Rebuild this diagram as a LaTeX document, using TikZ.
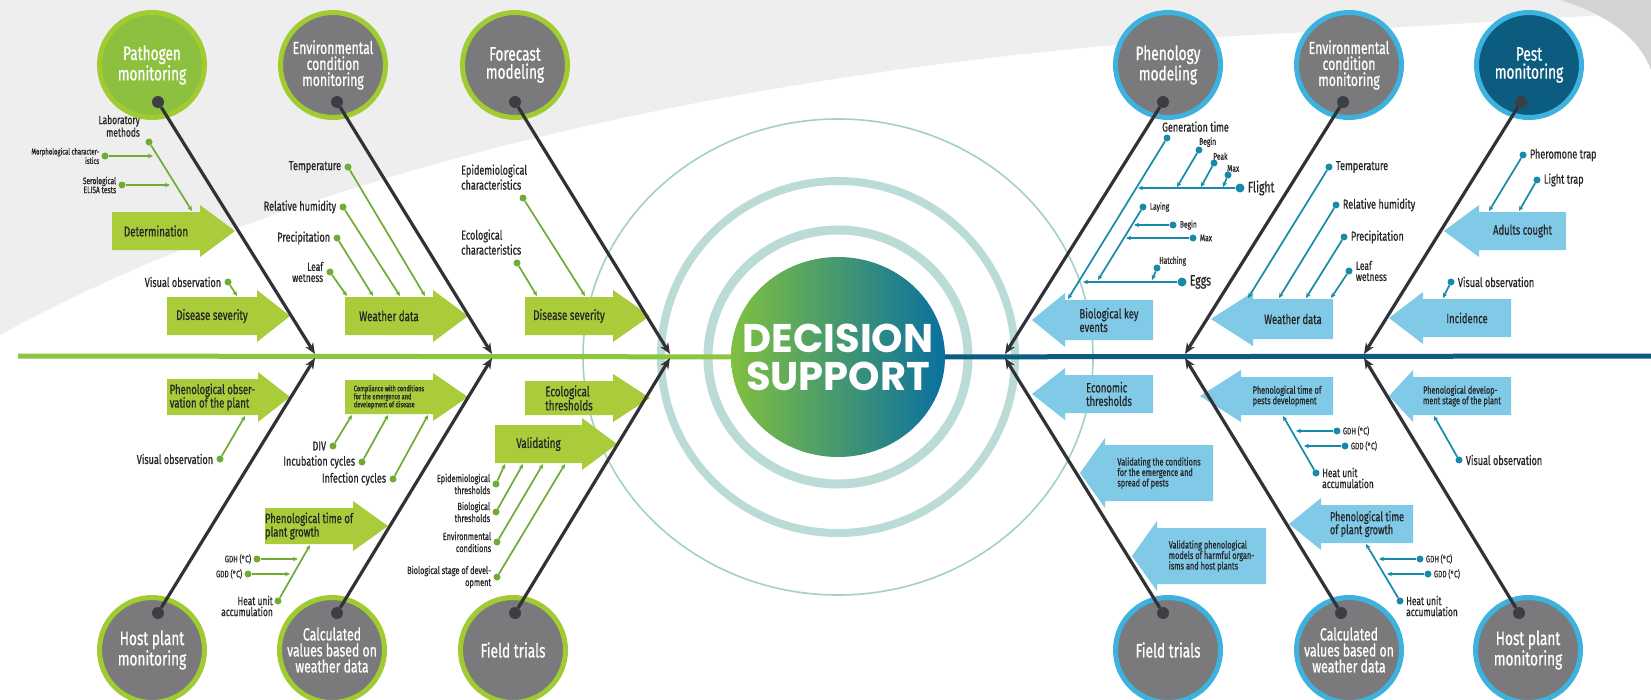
\documentclass[tikz,border=0pt]{standalone}
\usepackage{fontspec}
\setmainfont{Fira Sans}[FakeStretch=0.7, FakeBold=0.7]
\newfontfamily\dsfont{Poppins}
\usetikzlibrary{arrows.meta, positioning, shapes.geometric}

\definecolor{bgGray}{RGB}{238,238,239}
\definecolor{bgGrayDk}{RGB}{210,211,213}
\definecolor{limeFill}{RGB}{170,204,58}
\definecolor{limeRing}{RGB}{160,204,50}
\definecolor{pathoFill}{RGB}{140,192,62}
\definecolor{greyFill}{RGB}{122,122,124}
\definecolor{dotDark}{RGB}{60,62,70}
\definecolor{boneDark}{RGB}{50,50,54}
\definecolor{tribGreen}{RGB}{112,172,52}
\definecolor{spineGreen}{RGB}{140,198,63}
\definecolor{boxBlue}{RGB}{128,202,232}
\definecolor{blueRing}{RGB}{62,178,222}
\definecolor{pestFill}{RGB}{12,92,128}
\definecolor{tribBlue}{RGB}{22,138,168}
\definecolor{spineBlue}{RGB}{12,92,132}
\definecolor{txtDark}{RGB}{38,38,40}
\definecolor{dsGreen}{RGB}{128,192,64}
\definecolor{dsTeal}{RGB}{40,150,125}
\definecolor{dsBlue}{RGB}{10,112,160}
\definecolor{ringTeal}{RGB}{140,196,188}

% arrow shaped box and its text node
\newcommand{\flagbox}[9]{%
  \fill[#2] (#3,{#6-#7}) -- (#4,{#6-#7}) -- (#4,{#6-#7-7}) -- (#5,#6)
    -- (#4,{#6+#7+7}) -- (#4,{#6+#7}) -- (#3,{#6+#7}) -- cycle;
  \node[boxtxt, font=\fontsize{#8}{#8}\selectfont] (#1) at ({(#3+#4)/2},#6) {#9};
}

\begin{document}
\begin{tikzpicture}[x=1pt, y=-1pt,
  cause/.style={circle, line width=5pt, minimum size=105pt, inner sep=0pt, text=white, align=center, font=\fontsize{19.5}{18}\selectfont},
  causeG/.style={cause, draw=limeRing, fill=greyFill},
  causeB/.style={cause, draw=blueRing, fill=greyFill},
  three/.style={font=\fontsize{17.5}{16}\selectfont},
  bdot/.style={circle, fill=dotDark, inner sep=0pt, minimum size=12pt},
  bone/.style={draw=boneDark, line width=3.2pt, -{Stealth[length=11pt,width=9pt]}},
  gdot/.style={circle, fill=tribGreen, inner sep=0pt, minimum size=7pt},
  bldot/.style={circle, fill=tribBlue, inner sep=0pt, minimum size=7pt},
  tribg/.style={draw=tribGreen, line width=1.7pt, -{Stealth[length=5pt,width=4.5pt]}},
  tribb/.style={draw=tribBlue, line width=1.7pt, -{Stealth[length=5pt,width=4.5pt]}},
  lbl/.style={text=txtDark, inner sep=1pt, font=\fontsize{13}{12}\selectfont},
  slbl/.style={lbl, font=\fontsize{9.5}{9}\selectfont},
  mlbl/.style={lbl, font=\fontsize{12}{11}\selectfont},
  boxtxt/.style={text=txtDark, align=left, inner sep=0pt},
  gfill/.style={fill=limeFill},
  bfill/.style={fill=boxBlue},
  ring/.style={draw=ringTeal}]
\useasboundingbox (0,0) rectangle (1651,699);

% background
\fill[white] (0,0) rectangle (1651,699);
\fill[bgGray] (0,0) -- (0,335) .. controls (300,170) and (750,65) .. (1250,35)
  .. controls (1450,25) and (1600,15) .. (1651,12) -- (1651,0) -- cycle;
\fill[bgGrayDk] (1560,0) .. controls (1610,15) and (1640,40) .. (1651,70) -- (1651,0) -- cycle;

% rings round the centre
\coordinate (mid) at (838,357);
\draw[ring, line width=1.6pt, opacity=.8] (mid) ellipse [x radius=255, y radius=238];
\draw[ring, line width=8pt, opacity=.6] (mid) ellipse [x radius=177, y radius=176];
\draw[ring, line width=9pt, opacity=.6] (mid) ellipse [x radius=130, y radius=127];

\node[ellipse, minimum width=214pt, minimum height=200pt, inner sep=0pt,
  left color=dsGreen, middle color=dsTeal, right color=dsBlue] (ds) at (mid) {};
\node[text=white, align=center, inner sep=0pt,
  font=\dsfont\bfseries\fontsize{40}{38}\selectfont] (dsT) at (ds.center) {DECISION\\SUPPORT};

% spine
\coordinate (sL) at (18,356);
\coordinate (sR) at (1651,356);
\draw[spineGreen, line width=5pt] (sL) -- (ds);
\draw[spineBlue, line width=5pt] (ds) -- (sR);

% boxes, left half
\flagbox{detB}{gfill}{112}{200}{235}{231}{19}{14}{Determination}
\flagbox{sevA}{gfill}{167}{257}{290}{316}{19}{14}{Disease severity}
\flagbox{wthA}{gfill}{345}{433}{468}{316}{19}{14}{Weather data}
\flagbox{sevB}{gfill}{525}{613}{650}{316}{19}{14}{Disease severity}
\flagbox{obsB}{gfill}{167}{258}{290}{397}{18}{13.5}{Phenological obser-\\vation of the plant}
\flagbox{cmpB}{gfill}{345}{433}{468}{397}{17}{8}{Compliance with conditions\\for the emergence and\\development of disease}
\flagbox{ecoB}{gfill}{525}{613}{650}{398}{17}{14}{Ecological\\thresholds}
\flagbox{pgrA}{gfill}{265}{353}{388}{526}{18}{13.5}{Phenological time of\\plant growth}
\flagbox{valB}{gfill}{495}{582}{617}{444}{19}{14}{Validating}

% boxes, right half
\flagbox{bkeB}{bfill}{1153}{1065}{1032}{320}{20}{13.5}{Biological key\\events}
\flagbox{wthB}{bfill}{1333}{1253}{1211}{319}{20}{13.5}{Weather data}
\flagbox{adtB}{bfill}{1566}{1479}{1444}{231}{19}{13.5}{Adults cought}
\flagbox{incB}{bfill}{1511}{1423}{1389}{318}{19}{13.5}{Incidence}
\flagbox{ecnB}{bfill}{1153}{1065}{1032}{394}{19}{13.5}{Economic\\thresholds}
\flagbox{vcdB}{bfill}{1213}{1105}{1080}{473}{28}{10.5}{Validating the conditions\\for the emergence and\\spread of pests}
\flagbox{vphB}{bfill}{1266}{1157}{1132}{556}{28}{10.5}{Validating phenological\\models of harmful organ-\\isms and host plants}
\flagbox{ppdB}{bfill}{1333}{1241}{1200}{396}{19}{10.5}{Phenological time of\\pests development}
\flagbox{pdsB}{bfill}{1511}{1413}{1389}{396}{19}{10.5}{Phenological develop-\\ment stage of the plant}
\flagbox{pgrB}{bfill}{1413}{1321}{1289}{524}{19}{13}{Phenological time\\of plant growth}

% pathogen branch
\node[gdot] (labD) at (149,142) {};
\node[mlbl, align=right, anchor=south east] at (141,138) {Laboratory\\methods};
\coordinate (labE) at (192,211);
\draw[tribg] (labD) -- (labE);
\node[gdot] (morD) at (105,156) {};
\node[slbl, align=right, font=\fontsize{8.5}{8}\selectfont, left=1pt of morD] {Morphological character-\\istics};
\coordinate (morE) at (153,156);
\draw[tribg] (morD) -- (morE);
\node[gdot] (serD) at (122,185) {};
\node[slbl, align=right, left=1pt of serD] {Serological\\ELISA tests};
\coordinate (serE) at (170,185);
\draw[tribg] (serD) -- (serE);
\node[gdot] (visA) at (228,282) {};
\node[lbl, left=2pt of visA] {Visual observation};
\coordinate (visAE) at (237,296);
\draw[tribg] (visA) -- (visAE);

% environmental branch, left
\node[gdot] (tmpA) at (348,167) {};
\node[lbl, left=2pt of tmpA] {Temperature};
\coordinate (tmpAE) at (425,296);
\draw[tribg] (tmpA) -- (tmpAE);
\node[gdot] (rhA) at (343,207) {};
\node[lbl, left=2pt of rhA] {Relative humidity};
\coordinate (rhAE) at (400,296);
\draw[tribg] (rhA) -- (rhAE);
\node[gdot] (prA) at (337,238) {};
\node[lbl, left=2pt of prA] {Precipitation};
\coordinate (prAE) at (373,296);
\draw[tribg] (prA) -- (prAE);
\node[gdot] (lwA) at (330,272) {};
\node[mlbl, align=right, left=2pt of lwA] {Leaf\\wetness};
\coordinate (lwAE) at (347,296);
\draw[tribg] (lwA) -- (lwAE);

% forecast branch
\node[gdot] (epD) at (523,198) {};
\node[lbl, align=left, anchor=south west, font=\fontsize{13}{15}\selectfont] at (460,191) {Epidemiological\\characteristics};
\coordinate (epE) at (585,296);
\draw[tribg] (epD) -- (epE);
\node[gdot] (ecD) at (517,263) {};
\node[lbl, align=left, anchor=south west, font=\fontsize{13}{15}\selectfont] at (460,256) {Ecological\\characteristics};
\coordinate (ecE) at (537,296);
\draw[tribg] (ecD) -- (ecE);

% host plant branch, left
\node[gdot] (visB) at (220,459) {};
\node[lbl, left=2pt of visB] {Visual observation};
\coordinate (visBE) at (245,416);
\draw[tribg] (visB) -- (visBE);

% calculated values branch, left
\node[gdot] (divD) at (333,446) {};
\node[lbl, left=2pt of divD] {DIV};
\coordinate (divE) at (352,415);
\draw[tribg] (divD) -- (divE);
\node[gdot] (incD) at (362,462) {};
\node[lbl, left=2pt of incD] {Incubation cycles};
\coordinate (incE) at (388,415);
\draw[tribg] (incD) -- (incE);
\node[gdot] (infD) at (393,479) {};
\node[lbl, left=2pt of infD] {Infection cycles};
\coordinate (infE) at (428,415);
\draw[tribg] (infD) -- (infE);
\node[gdot] (gdhA) at (257,559) {};
\node[slbl, left=1pt of gdhA] {GDH (°C)};
\coordinate (gdhAE) at (298,559);
\draw[tribg] (gdhA) -- (gdhAE);
\node[gdot] (gddA) at (248,574) {};
\node[slbl, left=1pt of gddA] {GDD (°C)};
\coordinate (gddAE) at (290,574);
\draw[tribg] (gddA) -- (gddAE);
\node[gdot] (heatA) at (278,601) {};
\node[mlbl, align=right, anchor=east] at (274,606) {Heat unit\\accumulation};
\coordinate (heatAE) at (310,545);
\draw[tribg] (heatA) -- (heatAE);

% field trials branch, left
\node[gdot] (etD) at (496,484) {};
\node[slbl, align=right, font=\fontsize{10.5}{12}\selectfont, left=1pt of etD] {Epidemiological\\thresholds};
\coordinate (etE) at (505,464);
\draw[tribg] (etD) -- (etE);
\node[gdot] (btD) at (496,512) {};
\node[slbl, align=right, font=\fontsize{10.5}{12}\selectfont, left=1pt of btD] {Biological\\thresholds};
\coordinate (btE) at (523,464);
\draw[tribg] (btD) -- (btE);
\node[gdot] (encD) at (497,542) {};
\node[slbl, align=right, font=\fontsize{10.5}{12}\selectfont, left=1pt of encD] {Environmental\\conditions};
\coordinate (encE) at (543,464);
\draw[tribg] (encD) -- (encE);
\node[gdot] (bsD) at (497,577) {};
\node[slbl, align=right, font=\fontsize{10.5}{12}\selectfont, left=1pt of bsD] {Biological stage of devel-\\opment};
\coordinate (bsE) at (565,464);
\draw[tribg] (bsD) -- (bsE);

% phenology branch
\node[bldot] (genD) at (1167,138) {};
\node[lbl, anchor=south west] at (1161,133) {Generation time};
\coordinate (genE) at (1068,299);
\draw[tribb] (genD) -- (genE);
\node[bldot, minimum size=9pt] (fliD) at (1240,188) {};
\node[lbl, font=\fontsize{15}{15}\selectfont, right=2pt of fliD] {Flight};
\coordinate (fliE) at (1138,188);
\draw[tribb] (fliD) -- (fliE);
\node[bldot] (fbD) at (1199,150) {};
\node[slbl, anchor=south west] at (1198,148) {Begin};
\coordinate (fbE) at (1177,187);
\draw[tribb] (fbD) -- (fbE);
\node[bldot] (fpD) at (1214,163) {};
\node[slbl, anchor=south west] at (1212,161) {Peak};
\coordinate (fpE) at (1201,187);
\draw[tribb] (fpD) -- (fpE);
\node[bldot] (fmD) at (1228,175) {};
\node[slbl, anchor=south west] at (1226,173) {Max};
\coordinate (fmE) at (1223,187);
\draw[tribb] (fmD) -- (fmE);
\node[bldot] (layD) at (1143,207) {};
\node[slbl, right=2pt of layD] {Laying};
\coordinate (layE) at (1098,280);
\draw[tribb] (layD) -- (layE);
\node[bldot] (lbD) at (1173,225) {};
\node[slbl, right=2pt of lbD] {Begin};
\coordinate (lbE) at (1134,225);
\draw[tribb] (lbD) -- (lbE);
\node[bldot] (lmD) at (1193,238) {};
\node[slbl, right=2pt of lmD] {Max};
\coordinate (lmE) at (1126,238);
\draw[tribb] (lmD) -- (lmE);
\node[bldot, minimum size=9pt] (eggD) at (1182,282) {};
\node[lbl, font=\fontsize{15}{15}\selectfont, right=2pt of eggD] {Eggs};
\coordinate (eggE) at (1083,282);
\draw[tribb] (eggD) -- (eggE);
\node[bldot] (hatD) at (1157,268) {};
\node[slbl, anchor=south west] at (1158,267) {Hatching};
\coordinate (hatE) at (1152,280);
\draw[tribb] (hatD) -- (hatE);

% environmental branch, right
\node[bldot] (tmpB) at (1329,167) {};
\node[lbl, right=2pt of tmpB] {Temperature};
\coordinate (tmpBE) at (1248,298);
\draw[tribb] (tmpB) -- (tmpBE);
\node[bldot] (rhB) at (1336,205) {};
\node[lbl, right=2pt of rhB] {Relative humidity};
\coordinate (rhBE) at (1279,298);
\draw[tribb] (rhB) -- (rhBE);
\node[bldot] (prB) at (1344,237) {};
\node[lbl, right=2pt of prB] {Precipitation};
\coordinate (prBE) at (1306,298);
\draw[tribb] (prB) -- (prBE);
\node[bldot] (lwB) at (1349,271) {};
\node[mlbl, align=left, right=2pt of lwB] {Leaf\\wetness};
\coordinate (lwBE) at (1331,298);
\draw[tribb] (lwB) -- (lwBE);

% pest branch
\node[bldot] (phD) at (1523,155) {};
\node[lbl, right=2pt of phD] {Pheromone trap};
\coordinate (phE) at (1489,211);
\draw[tribb] (phD) -- (phE);
\node[bldot] (ltD) at (1537,180) {};
\node[lbl, right=2pt of ltD] {Light trap};
\coordinate (ltE) at (1519,211);
\draw[tribb] (ltD) -- (ltE);
\node[bldot] (visC) at (1451,282) {};
\node[lbl, right=2pt of visC] {Visual observation};
\coordinate (visCE) at (1443,298);
\draw[tribb] (visC) -- (visCE);

% calculated values branch, right
\node[bldot] (gdhB) at (1337,431) {};
\node[slbl, right=1pt of gdhB] {GDH (°C)};
\coordinate (gdhBE) at (1296,431);
\draw[tribb] (gdhB) -- (gdhBE);
\node[bldot] (gddB) at (1345,446) {};
\node[slbl, right=1pt of gddB] {GDD (°C)};
\coordinate (gddBE) at (1304,446);
\draw[tribb] (gddB) -- (gddBE);
\node[bldot] (heatB) at (1316,473) {};
\node[mlbl, align=left, anchor=west] at (1321,478) {Heat unit\\accumulation};
\coordinate (heatBE) at (1283,416);
\draw[tribb] (heatB) -- (heatBE);

% host plant branch, right
\node[bldot] (visD) at (1459,460) {};
\node[lbl, right=2pt of visD] {Visual observation};
\coordinate (visDE) at (1434,416);
\draw[tribb] (visD) -- (visDE);
\node[bldot] (gdhC) at (1420,559) {};
\node[slbl, right=1pt of gdhC] {GDH (°C)};
\coordinate (gdhCE) at (1379,559);
\draw[tribb] (gdhC) -- (gdhCE);
\node[bldot] (gddC) at (1428,574) {};
\node[slbl, right=1pt of gddC] {GDD (°C)};
\coordinate (gddCE) at (1387,574);
\draw[tribb] (gddC) -- (gddCE);
\node[bldot] (heatC) at (1400,601) {};
\node[mlbl, align=left, anchor=west] at (1405,606) {Heat unit\\accumulation};
\coordinate (heatCE) at (1366,544);
\draw[tribb] (heatC) -- (heatCE);

% cause circles
\node[cause, draw=limeRing, fill=pathoFill] (patho) at (152,65) {Pathogen\\monitoring};
\node[causeG, three] (envA) at (333,65) {Environmental\\condition\\monitoring};
\node[causeG] (fcst) at (515,65) {Forecast\\modeling};
\node[causeG] (hostA) at (152,650) {Host plant\\monitoring};
\node[causeG, three] (calcA) at (332,650) {Calculated\\values based on\\weather data};
\node[causeG] (fldA) at (513,650) {Field trials};
\node[causeB] (phen) at (1168,65) {Phenology\\modeling};
\node[causeB, three] (envB) at (1349,65) {Environmental\\condition\\monitoring};
\node[cause, draw=blueRing, fill=pestFill] (pest) at (1529,65) {Pest\\monitoring};
\node[causeB] (fldB) at (1168,650) {Field trials};
\node[causeB, three] (calcB) at (1349,650) {Calculated\\values based on\\weather data};
\node[causeB] (hostB) at (1528,650) {Host plant\\monitoring};

% bone dots and tips
\node[bdot] (pathoD) at (158,102) {};
\node[bdot] (envAD) at (337,102) {};
\node[bdot] (fcstD) at (515,102) {};
\node[bdot] (hostAD) at (158,613) {};
\node[bdot] (calcAD) at (337,613) {};
\node[bdot] (fldAD) at (515,613) {};
\node[bdot] (phenD) at (1163,102) {};
\node[bdot] (envBD) at (1343,102) {};
\node[bdot] (pestD) at (1521,102) {};
\node[bdot] (fldBD) at (1163,613) {};
\node[bdot] (calcBD) at (1341,613) {};
\node[bdot] (hostBD) at (1519,613) {};
\coordinate (t1) at (315,354);
\coordinate (t2) at (492,354);
\coordinate (t3) at (670,354);
\coordinate (u1) at (315,358);
\coordinate (u2) at (492,358);
\coordinate (u3) at (670,358);
\coordinate (t4) at (1005,354);
\coordinate (t5) at (1185,354);
\coordinate (t6) at (1364,354);
\coordinate (u4) at (1005,358);
\coordinate (u5) at (1185,358);
\coordinate (u6) at (1364,358);

% bones
\draw[bone] (pathoD) -- (t1);
\draw[bone] (envAD) -- (t2);
\draw[bone] (fcstD) -- (t3);
\draw[bone] (hostAD) -- (u1);
\draw[bone] (calcAD) -- (u2);
\draw[bone] (fldAD) -- (u3);
\draw[bone] (phenD) -- (t4);
\draw[bone] (envBD) -- (t5);
\draw[bone] (pestD) -- (t6);
\draw[bone] (fldBD) -- (u4);
\draw[bone] (calcBD) -- (u5);
\draw[bone] (hostBD) -- (u6);
\end{tikzpicture}
\end{document}
